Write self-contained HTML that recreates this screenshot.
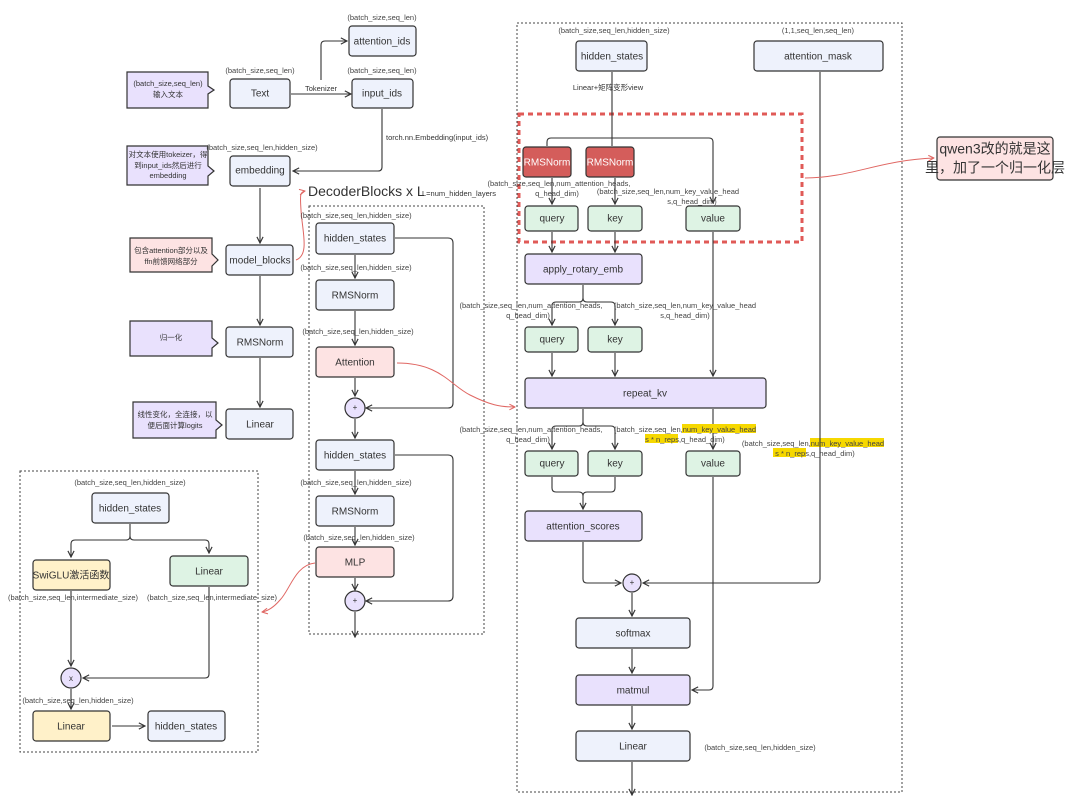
<!DOCTYPE html>
<html><head><meta charset="utf-8"><style>
html,body{margin:0;padding:0;background:#fff}
svg{display:block;font-family:"Liberation Sans","Noto Sans CJK SC",sans-serif}
.b{stroke:#333;stroke-width:1.2}
.bl{fill:#eef2fc}.pu{fill:#e9e1fd}.gr{fill:#def3e4}.pk{fill:#fde3e3}.rd{fill:#d45d5b}.ye{fill:#fff1c9}
.t{font-size:10px;fill:#333;text-anchor:middle;dominant-baseline:middle}
.s{font-size:7.5px;fill:#444;text-anchor:middle}
.n{font-size:7.5px;fill:#333;text-anchor:middle}
.l{fill:none;stroke:#333;stroke-width:1.1}
.r{fill:none;stroke:#e06763;stroke-width:1}
.d{fill:none;stroke:#444;stroke-width:1;stroke-dasharray:2,2}
</style></head><body>
<svg width="1080" height="806" viewBox="0 0 1080 806">
<defs>
<marker id="a" viewBox="0 0 10 10" refX="9" refY="5" markerWidth="7" markerHeight="7" orient="auto"><path d="M1,1 L9,5 L1,9" fill="none" stroke="#333" stroke-width="1.5"/></marker>
<marker id="ar" viewBox="0 0 10 10" refX="9" refY="5" markerWidth="7" markerHeight="7" orient="auto"><path d="M1,1 L9,5 L1,9" fill="none" stroke="#e06763" stroke-width="1.5"/></marker>
</defs>

<!-- left notes -->
<path class="b pu" d="M127,72 H208 V86 L214,90 L208,94 V108 H127 Z"/>
<text class="n" x="168" y="86">(batch_size,seq_len)</text><text class="n" x="168" y="97">输入文本</text>
<path class="b pu" d="M127,146 H208 V166 L214,171 L208,176 V185 H127 Z"/>
<text class="n" x="168" y="157">对文本使用tokeizer，得</text><text class="n" x="168" y="168">到input_ids然后进行</text><text class="n" x="168" y="178">embedding</text>
<path class="b pk" d="M130,238 H212 V254 L218,260 L212,266 V272 H130 Z"/>
<text class="n" x="171" y="253">包含attention部分以及</text><text class="n" x="171" y="264">ffn前馈网络部分</text>
<path class="b pu" d="M130,321 H212 V338 L218,343 L212,348 V356 H130 Z"/>
<text class="n" x="171" y="340">归一化</text>
<path class="b pu" d="M133,402 H216 V420 L222,425 L216,430 V438 H133 Z"/>
<text class="n" x="175" y="417">线性变化，全连接，以</text><text class="n" x="175" y="428">便后面计算logits</text>

<!-- left column -->
<text class="s" x="260" y="73">(batch_size,seq_len)</text>
<rect class="b bl" x="230" y="79" width="60" height="29" rx="3"/><text class="t" x="260" y="94">Text</text>
<text class="s" x="382" y="20">(batch_size,seq_len)</text>
<rect class="b bl" x="349" y="26" width="67" height="30" rx="3"/><text class="t" x="382" y="42">attention_ids</text>
<text class="s" x="382" y="73">(batch_size,seq_len)</text>
<rect class="b bl" x="352" y="79" width="61" height="29" rx="3"/><text class="t" x="382" y="94">input_ids</text>
<line class="l" x1="291" y1="94" x2="351" y2="94" marker-end="url(#a)"/>
<text class="n" x="321" y="91">Tokenizer</text>
<path class="l" d="M321,80 V45 Q321,41 325,41 H347" marker-end="url(#a)"/>
<path class="l" d="M382,109 V167 Q382,171 378,171 H293" marker-end="url(#a)"/>
<text class="n" x="386" y="140" style="text-anchor:start">torch.nn.Embedding(input_ids)</text>
<text class="s" x="262" y="150">(batch_size,seq_len,hidden_size)</text>
<rect class="b bl" x="230" y="156" width="60" height="30" rx="3"/><text class="t" x="260" y="171">embedding</text>
<line class="l" x1="260" y1="188" x2="260" y2="243" marker-end="url(#a)"/>
<rect class="b bl" x="226" y="245" width="67" height="30" rx="3"/><text class="t" x="260" y="261">model_blocks</text>
<line class="l" x1="260" y1="276" x2="260" y2="325" marker-end="url(#a)"/>
<rect class="b bl" x="226" y="327" width="67" height="30" rx="3"/><text class="t" x="260" y="343">RMSNorm</text>
<line class="l" x1="260" y1="358" x2="260" y2="407" marker-end="url(#a)"/>
<rect class="b bl" x="226" y="409" width="67" height="30" rx="3"/><text class="t" x="260" y="425">Linear</text>
<path class="r" d="M296,260 C310,255 302,230 301,210 C300,195 300,192 305,191" marker-end="url(#ar)"/>
<text x="308" y="196" style="font-size:14px;fill:#333">DecoderBlocks x L</text>
<text class="n" x="422" y="196" style="text-anchor:start">L=num_hidden_layers</text>

<!-- middle -->
<rect class="d" x="309" y="206" width="175" height="428"/>
<text class="s" x="356" y="218">(batch_size,seq_len,hidden_size)</text>
<rect class="b bl" x="316" y="223" width="78" height="31" rx="3"/><text class="t" x="355" y="239">hidden_states</text>
<line class="l" x1="355" y1="255" x2="355" y2="278" marker-end="url(#a)"/>
<text class="s" x="356" y="270">(batch_size,seq_len,hidden_size)</text>
<rect class="b bl" x="316" y="280" width="78" height="30" rx="3"/><text class="t" x="355" y="296">RMSNorm</text>
<line class="l" x1="355" y1="311" x2="355" y2="345" marker-end="url(#a)"/>
<text class="s" x="358" y="334">(batch_size,seq_len,hidden_size)</text>
<rect class="b pk" x="316" y="347" width="78" height="30" rx="3"/><text class="t" x="355" y="363">Attention</text>
<line class="l" x1="355" y1="378" x2="355" y2="396" marker-end="url(#a)"/>
<circle class="b pu" cx="355" cy="408" r="10"/><text class="t" x="355" y="408" style="font-size:8px">+</text>
<path class="l" d="M395,238 H448 Q453,238 453,243 V403 Q453,408 448,408 H366" marker-end="url(#a)"/>
<line class="l" x1="355" y1="419" x2="355" y2="438" marker-end="url(#a)"/>
<rect class="b bl" x="316" y="440" width="78" height="30" rx="3"/><text class="t" x="355" y="456">hidden_states</text>
<line class="l" x1="355" y1="471" x2="355" y2="494" marker-end="url(#a)"/>
<text class="s" x="356" y="485">(batch_size,seq_len,hidden_size)</text>
<rect class="b bl" x="316" y="496" width="78" height="30" rx="3"/><text class="t" x="355" y="512">RMSNorm</text>
<line class="l" x1="355" y1="527" x2="355" y2="545" marker-end="url(#a)"/>
<text class="s" x="359" y="540">(batch_size,seq_len,hidden_size)</text>
<rect class="b pk" x="316" y="547" width="78" height="30" rx="3"/><text class="t" x="355" y="563">MLP</text>
<line class="l" x1="355" y1="578" x2="355" y2="590" marker-end="url(#a)"/>
<circle class="b pu" cx="355" cy="601" r="10"/><text class="t" x="355" y="601" style="font-size:8px">+</text>
<path class="l" d="M395,455 H448 Q453,455 453,460 V596 Q453,601 448,601 H366" marker-end="url(#a)"/>
<line class="l" x1="355" y1="612" x2="355" y2="637" marker-end="url(#a)"/>
<path class="r" d="M397,363 C440,363 450,385 470,395 C490,405 500,407 515,407" marker-end="url(#ar)"/>
<path class="r" d="M315,563 C295,565 290,590 280,600 C274,607 268,611 262,612" marker-end="url(#ar)"/>

<!-- bottom-left -->
<rect class="d" x="20" y="471" width="238" height="281"/>
<text class="s" x="130" y="485">(batch_size,seq_len,hidden_size)</text>
<rect class="b bl" x="92" y="493" width="77" height="30" rx="3"/><text class="t" x="130" y="509">hidden_states</text>
<path class="l" d="M130,524 V536 Q130,540 126,540 H75 Q71,540 71,544 V557" marker-end="url(#a)"/>
<path class="l" d="M130,536 Q130,540 134,540 H205 Q209,540 209,544 V553" marker-end="url(#a)"/>
<rect class="b ye" x="33" y="560" width="77" height="30" rx="3"/><text class="t" x="71" y="576">SwiGLU激活函数</text>
<rect class="b gr" x="170" y="556" width="78" height="30" rx="3"/><text class="t" x="209" y="572">Linear</text>
<text class="s" x="73" y="600">(batch_size,seq_len,intermediate_size)</text>
<text class="s" x="212" y="600">(batch_size,seq_len,intermediate_size)</text>
<line class="l" x1="71" y1="591" x2="71" y2="666" marker-end="url(#a)"/>
<path class="l" d="M209,587 V674 Q209,678 205,678 H83" marker-end="url(#a)"/>
<circle class="b pu" cx="71" cy="678" r="10"/><text class="t" x="71" y="679" style="font-size:8px">x</text>
<text class="s" x="78" y="703">(batch_size,seq_len,hidden_size)</text>
<line class="l" x1="71" y1="689" x2="71" y2="709" marker-end="url(#a)"/>
<rect class="b ye" x="33" y="711" width="77" height="30" rx="3"/><text class="t" x="71" y="727">Linear</text>
<line class="l" x1="112" y1="726" x2="145" y2="726" marker-end="url(#a)"/>
<rect class="b bl" x="148" y="711" width="77" height="30" rx="3"/><text class="t" x="186" y="727">hidden_states</text>

<!-- right -->
<rect class="d" x="517" y="23" width="385" height="769"/>
<text class="s" x="614" y="33">(batch_size,seq_len,hidden_size)</text>
<rect class="b bl" x="576" y="41" width="71" height="30" rx="3"/><text class="t" x="612" y="57">hidden_states</text>
<text class="s" x="818" y="33">(1,1,seq_len,seq_len)</text>
<rect class="b bl" x="754" y="41" width="129" height="30" rx="3"/><text class="t" x="818" y="57">attention_mask</text>
<text class="n" x="608" y="90">Linear+矩阵变形view</text>
<rect x="519" y="114" width="283" height="128" fill="none" stroke="#e05a57" stroke-width="3" stroke-dasharray="5,4"/>
<path class="l" d="M612,72 V138 M547,146 V142 Q547,138 551,138 H709 Q713,138 713,142 V203" marker-end="url(#a)"/>
<line class="l" x1="612" y1="138" x2="612" y2="146"/>
<rect class="b rd" x="523" y="147" width="48" height="30" rx="3"/><text class="t" x="547" y="163" style="fill:#fff">RMSNorm</text>
<rect class="b rd" x="586" y="147" width="48" height="30" rx="3"/><text class="t" x="610" y="163" style="fill:#fff">RMSNorm</text>
<line class="l" x1="552" y1="178" x2="552" y2="204" marker-end="url(#a)"/>
<line class="l" x1="615" y1="178" x2="615" y2="204" marker-end="url(#a)"/>
<text class="s" x="559" y="186">(batch_size,seq_len,num_attention_heads,</text><text class="s" x="557" y="196">q_head_dim)</text>
<text class="s" x="668" y="194">(batch_size,seq_len,num_key_value_head</text><text class="s" x="692" y="204">s,q_head_dim)</text>
<rect class="b gr" x="525" y="206" width="53" height="25" rx="3"/><text class="t" x="552" y="219">query</text>
<rect class="b gr" x="588" y="206" width="54" height="25" rx="3"/><text class="t" x="615" y="219">key</text>
<rect class="b gr" x="686" y="206" width="54" height="25" rx="3"/><text class="t" x="713" y="219">value</text>
<line class="l" x1="552" y1="232" x2="552" y2="252" marker-end="url(#a)"/>
<line class="l" x1="615" y1="232" x2="615" y2="252" marker-end="url(#a)"/>
<rect class="b pu" x="525" y="254" width="117" height="30" rx="3"/><text class="t" x="583" y="270">apply_rotary_emb</text>
<path class="l" d="M583,285 V298 M583,298 Q583,302 579,302 H556 Q552,302 552,306 V325" marker-end="url(#a)"/>
<path class="l" d="M583,298 Q583,302 587,302 H611 Q615,302 615,306 V325" marker-end="url(#a)"/>
<text class="s" x="531" y="308">(batch_size,seq_len,num_attention_heads,</text><text class="s" x="528" y="318">q_head_dim)</text>
<text class="s" x="685" y="308">(batch_size,seq_len,num_key_value_head</text><text class="s" x="685" y="318">s,q_head_dim)</text>
<rect class="b gr" x="525" y="327" width="53" height="25" rx="3"/><text class="t" x="552" y="340">query</text>
<rect class="b gr" x="588" y="327" width="54" height="25" rx="3"/><text class="t" x="615" y="340">key</text>
<line class="l" x1="552" y1="353" x2="552" y2="376" marker-end="url(#a)"/>
<line class="l" x1="615" y1="353" x2="615" y2="376" marker-end="url(#a)"/>
<line class="l" x1="713" y1="232" x2="713" y2="376" marker-end="url(#a)"/>
<rect class="b pu" x="525" y="378" width="241" height="30" rx="3"/><text class="t" x="645" y="394">repeat_kv</text>
<path class="l" d="M583,409 V422 M583,422 Q583,426 579,426 H556 Q552,426 552,430 V449" marker-end="url(#a)"/>
<path class="l" d="M583,422 Q583,426 587,426 H611 Q615,426 615,430 V449" marker-end="url(#a)"/>
<line class="l" x1="713" y1="409" x2="713" y2="449" marker-end="url(#a)"/>
<text class="s" x="531" y="432">(batch_size,seq_len,num_attention_heads,</text><text class="s" x="528" y="442">q_head_dim)</text>
<rect x="682" y="424" width="74" height="9" fill="#f6d800"/><rect x="645" y="434" width="33" height="9" fill="#f6d800"/>
<text class="s" x="685" y="432">(batch_size,seq_len,num_key_value_head</text><text class="s" x="685" y="442">s * n_reps,q_head_dim)</text>
<rect x="810" y="438" width="74" height="9" fill="#f6d800"/><rect x="773" y="448" width="33" height="9" fill="#f6d800"/>
<text class="s" x="813" y="446">(batch_size,seq_len,num_key_value_head</text><text class="s" x="815" y="456">s * n_reps,q_head_dim)</text>
<rect class="b gr" x="525" y="451" width="53" height="25" rx="3"/><text class="t" x="552" y="464">query</text>
<rect class="b gr" x="588" y="451" width="54" height="25" rx="3"/><text class="t" x="615" y="464">key</text>
<rect class="b gr" x="686" y="451" width="54" height="25" rx="3"/><text class="t" x="713" y="464">value</text>
<path class="l" d="M552,477 V488 Q552,492 556,492 H579 Q583,492 583,496 V509" marker-end="url(#a)"/>
<path class="l" d="M615,477 V488 Q615,492 611,492 H587 Q583,492 583,496"/>
<rect class="b pu" x="525" y="511" width="117" height="30" rx="3"/><text class="t" x="583" y="527">attention_scores</text>
<path class="l" d="M583,542 V579 Q583,583 587,583 H621" marker-end="url(#a)"/>
<path class="l" d="M820,72 V579 Q820,583 816,583 H643" marker-end="url(#a)"/>
<circle class="b pu" cx="632" cy="583" r="9"/><text class="t" x="632" y="583" style="font-size:8px">+</text>
<line class="l" x1="632" y1="593" x2="632" y2="616" marker-end="url(#a)"/>
<rect class="b bl" x="576" y="618" width="114" height="30" rx="3"/><text class="t" x="633" y="634">softmax</text>
<line class="l" x1="632" y1="649" x2="632" y2="673" marker-end="url(#a)"/>
<rect class="b pu" x="576" y="675" width="114" height="30" rx="3"/><text class="t" x="633" y="691">matmul</text>
<path class="l" d="M713,477 V686 Q713,690 709,690 H692" marker-end="url(#a)"/>
<line class="l" x1="632" y1="706" x2="632" y2="729" marker-end="url(#a)"/>
<rect class="b bl" x="576" y="731" width="114" height="30" rx="3"/><text class="t" x="633" y="747">Linear</text>
<text class="s" x="760" y="750">(batch_size,seq_len,hidden_size)</text>
<line class="l" x1="632" y1="762" x2="632" y2="795" marker-end="url(#a)"/>

<!-- callout -->
<path class="r" d="M805,178 C850,178 880,160 934,158" marker-end="url(#ar)"/>
<rect class="b pk" x="937" y="137" width="116" height="43" rx="3"/>
<text class="t" x="995" y="150" style="font-size:14px">qwen3改的就是这</text>
<text class="t" x="995" y="169" style="font-size:14px">里，加了一个归一化层</text>
</svg>
</body></html>
